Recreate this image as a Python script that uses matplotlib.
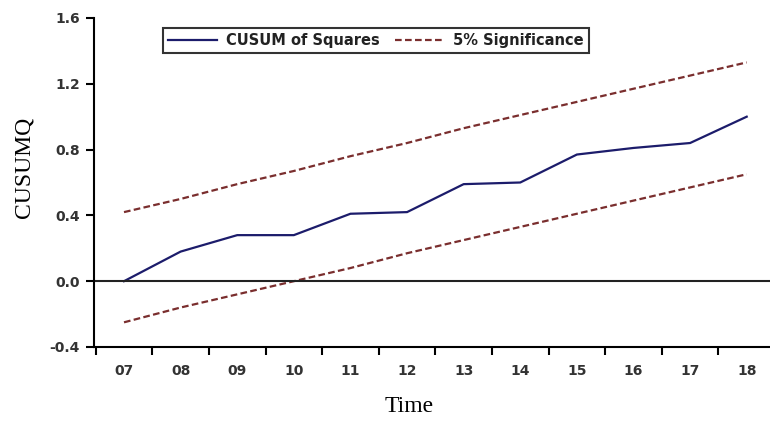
import matplotlib.pyplot as plt
import numpy as np

years = ['07', '08', '09', '10', '11', '12', '13', '14', '15', '16', '17', '18']
cusumsq = [0.0, 0.18, 0.28, 0.28, 0.41, 0.42, 0.59, 0.60, 0.77, 0.81, 0.84, 1.0]
upper = [0.42, 0.50, 0.59, 0.67, 0.76, 0.84, 0.93, 1.01, 1.09, 1.17, 1.25, 1.33]
lower = [-0.25, -0.16, -0.08, 0.0, 0.08, 0.17, 0.25, 0.33, 0.41, 0.49, 0.57, 0.65]

fig = plt.figure(figsize=(7.7, 4.21), dpi=100)
ax = fig.add_axes([94/770, 1 - 347/421, (775 - 94)/770, (347 - 18)/421])

x = np.arange(len(years))
ax.plot(x, cusumsq, color='#1c1c6b', lw=1.6, label='CUSUM of Squares')
ax.plot(x, upper, color='#7a2e2e', lw=1.6, ls=(0, (3, 1.5)), label='5% Significance')
ax.plot(x, lower, color='#7a2e2e', lw=1.6, ls=(0, (3, 1.5)))
ax.axhline(0, color='#222222', lw=1.5)

ax.set_xlim(-0.53, 11.5)
ax.set_ylim(-0.4, 1.6)
ax.set_yticks([-0.4, 0.0, 0.4, 0.8, 1.2, 1.6])
ax.set_yticklabels(['-0.4', '0.0', '0.4', '0.8', '1.2', '1.6'])
ax.set_xticks(x)
ax.set_xticklabels(years)
ax.set_xticks(np.arange(-0.5, 11.6, 1), minor=True)
ax.tick_params(axis='x', which='major', length=0, pad=12)
ax.tick_params(axis='x', which='minor', length=6, width=1.5, direction='out')
ax.tick_params(axis='y', length=6, width=1.5, pad=4)
for lab in ax.get_xticklabels() + ax.get_yticklabels():
    lab.set_fontfamily('DejaVu Sans')
    lab.set_fontweight('bold')
    lab.set_fontsize(10)
    lab.set_color('#333333')

for s in ['top', 'right']:
    ax.spines[s].set_visible(False)
for s in ['left', 'bottom']:
    ax.spines[s].set_linewidth(1.5)

ax.set_ylabel('CUSUMQ', fontfamily='Liberation Serif', fontsize=17)
ax.set_xlabel('Time', fontfamily='Liberation Serif', fontsize=17)
ax.yaxis.set_label_coords(-0.088, 0.547)
ax.xaxis.set_label_coords(0.4626, -0.15)

leg = ax.legend(loc='upper left', bbox_to_anchor=(0.101, 0.97), ncol=2, frameon=True,
                fancybox=False, edgecolor='black', handlelength=3.4, handletextpad=0.6,
                columnspacing=1.0, borderpad=0.35, borderaxespad=0,
                prop={'family': 'DejaVu Sans', 'weight': 'bold', 'size': 10.5})
leg.get_frame().set_linewidth(1.5)
for t in leg.get_texts():
    t.set_color('#222222')

fig.savefig('out.png', dpi=100)
